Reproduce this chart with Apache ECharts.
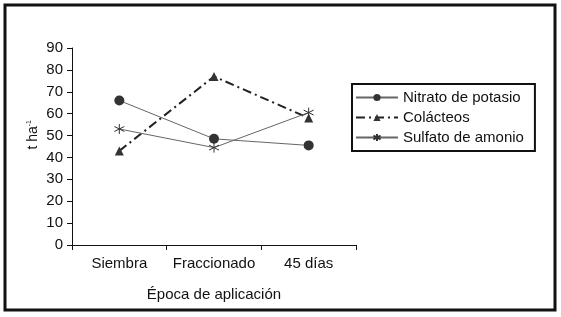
<!DOCTYPE html>
<html>
<head>
<meta charset="utf-8">
<script src="https://cdn.jsdelivr.net/npm/echarts@6/dist/echarts.min.js"></script>
<style>
    html, body { margin: 0; padding: 0; background: #fff; }
    #chart { width: 561px; height: 317px; }
</style>
</head>
<body>
<div id="chart"></div>
<script>
// datos
const categorias = ['Siembra', 'Fraccionado', '45 días']
const nitrato = [66, 48.5, 45.5]
const colacteos = [43, 77, 58]
const sulfato = [53, 44.5, 60.5]
const yTicks = [0, 90, 10] // min, max, intervalo

const asterisco = 'path://M5,0L5,10M0.7,2.5L9.3,7.5M9.3,2.5L0.7,7.5'
const fuente = 'Liberation Sans, Arial, sans-serif'

let option = {
    animation: false,
    backgroundColor: '#fff',
    textStyle: { fontFamily: fuente, color: '#111' },
    graphic: [
        {
            type: 'rect',
            shape: { x: 5, y: 5, width: 550, height: 305 },
            style: { fill: 'none', stroke: '#111', lineWidth: 3 }
        },
        {
            type: 'text',
            left: 26,
            top: 120,
            rotation: Math.PI / 2,
            style: {
                text: '{a|t ha}{b|-1}',
                rich: {
                    a: { fontSize: 14, fontFamily: fuente, fill: '#111' },
                    b: { fontSize: 7, fontFamily: fuente, fill: '#111', verticalAlign: 'top', padding: [0, 0, 7, 0] }
                }
            }
        }
    ],
    grid: {
        left: 72,
        top: 48,
        right: 205,
        bottom: 72
    },
    legend: {
        orient: 'vertical',
        left: 352,
        top: 84,
        padding: [6, 11, 6, 3],
        borderColor: '#111',
        borderWidth: 2,
        itemWidth: 42,
        itemHeight: 9,
        itemGap: 5,
        textStyle: { fontSize: 15, color: '#111', fontFamily: fuente },
        data: ['Nitrato de potasio', 'Colácteos', 'Sulfato de amonio']
    },
    xAxis: {
        type: 'category',
        data: categorias,
        boundaryGap: true,
        name: 'Época de aplicación',
        nameLocation: 'middle',
        nameGap: 42,
        nameTextStyle: { fontSize: 15, color: '#111' },
        axisLine: { lineStyle: { color: '#111', width: 1 } },
        axisTick: { show: true, length: 5, lineStyle: { color: '#111' } },
        axisLabel: { fontSize: 15, color: '#111', margin: 11, interval: 0 }
    },
    yAxis: {
        type: 'value',
        min: yTicks[0],
        max: yTicks[1],
        interval: yTicks[2],
        splitLine: { show: false },
        axisLine: { show: true, lineStyle: { color: '#111', width: 1 } },
        axisTick: { show: true, length: 5, lineStyle: { color: '#111' } },
        axisLabel: { fontSize: 15, color: '#111', margin: 9 }
    },
    series: [
        {
            name: 'Nitrato de potasio',
            type: 'line',
            data: nitrato,
            symbol: 'circle',
            symbolSize: 10,
            itemStyle: { color: '#333' },
            lineStyle: { color: '#666', width: 1 }
        },
        {
            name: 'Colácteos',
            type: 'line',
            data: colacteos,
            symbol: 'triangle',
            symbolSize: 9,
            itemStyle: { color: '#333' },
            lineStyle: { color: '#222', width: 2, type: [9, 4, 2, 4] }
        },
        {
            name: 'Sulfato de amonio',
            type: 'line',
            data: sulfato,
            symbol: asterisco,
            symbolSize: 10,
            itemStyle: { color: 'none', borderColor: '#333', borderWidth: 1 },
            lineStyle: { color: '#666', width: 1 }
        }
    ]
}

var myChart = echarts.init(document.getElementById('chart'))
myChart.setOption(option)
</script>
</body>
</html>
